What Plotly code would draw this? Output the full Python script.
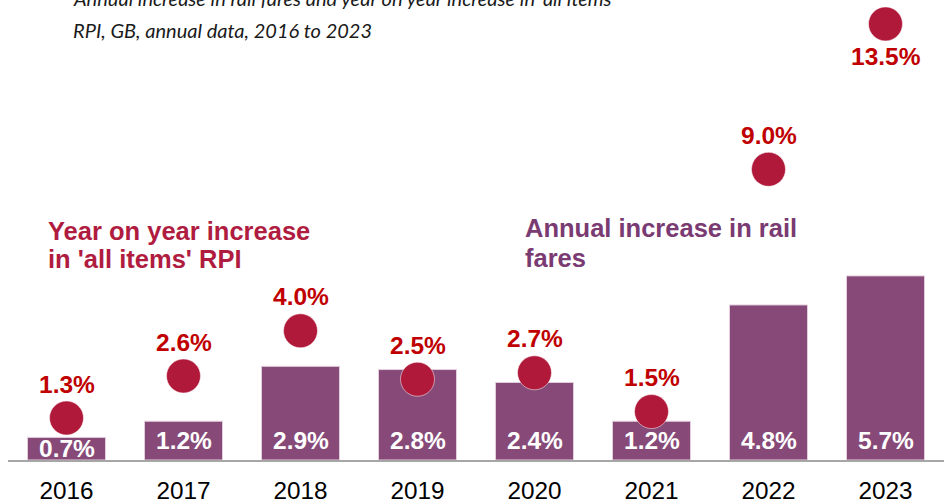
import plotly.graph_objects as go

# Data
years = ["2016", "2017", "2018", "2019", "2020", "2021", "2022", "2023"]
rail_fares = [0.7, 1.2, 2.9, 2.8, 2.4, 1.2, 4.8, 5.7]
rpi = [1.3, 2.6, 4.0, 2.5, 2.7, 1.5, 9.0, 13.5]

title_lines = [
    "Annual increase in rail fares and year on year increase in 'all items'",
    "RPI, GB, annual data, 2016 to 2023",
]
rpi_caption = ["Year on year increase", "in 'all items' RPI"]
fares_caption = ["Annual increase in rail", "fares"]

# Layout constants
W, H = 946, 504
M_L, M_R, M_T, M_B = 8, 2, 0, 44
PLOT_H = H - M_T - M_B
PX_PER_UNIT = 32.3
Y_MAX = PLOT_H / PX_PER_UNIT

BAR_COLOR = "#874A78"
DOT_COLOR = "#B0193A"
DOT_LABEL = "#C00000"
FARES_TEXT = "#7A3A72"
RPI_TEXT = "#B01C3F"
FONT = "Liberation Sans"


def paper_x(px):
    return (px - M_L) / (W - M_L - M_R)


def paper_y(py):
    return (M_T + PLOT_H - py) / PLOT_H


fig = go.Figure()

fig.add_trace(go.Bar(
    x=years, y=rail_fares, width=0.667,
    marker=dict(color=BAR_COLOR, line=dict(color="#E3CFDD", width=1)),
    hoverinfo="skip", showlegend=False,
))

fig.add_trace(go.Scatter(
    x=years, y=rpi, mode="markers",
    marker=dict(size=34, color=DOT_COLOR, line=dict(color="rgba(255,255,255,0.5)", width=1)),
    cliponaxis=False, hoverinfo="skip", showlegend=False,
))

annotations = []

# White value labels near the foot of each bar (x given as category index)
for i, v in enumerate(rail_fares):
    annotations.append(dict(
        x=i, y=0, xref="x", yref="y", text=f"{v:.1f}%", showarrow=False,
        yanchor="middle", yshift=12 if v < 1 else 20,
        font=dict(family=FONT, size=24.5, color="white", weight="bold"),
    ))

# Red value labels for the RPI dots (above, except the last one)
for i, v in enumerate(rpi):
    shift = -33 if i == len(rpi) - 1 else 34
    annotations.append(dict(
        x=i, y=v, xref="x", yref="y", text=f"{v:.1f}%", showarrow=False,
        yanchor="middle", yshift=shift,
        font=dict(family=FONT, size=24.5, color=DOT_LABEL, weight="bold"),
    ))

# Series captions
for line, cy in zip(rpi_caption, [231, 259]):
    annotations.append(dict(
        x=paper_x(46), y=paper_y(cy), xref="paper", yref="paper", text=line,
        showarrow=False, xanchor="left", yanchor="middle",
        font=dict(family=FONT, size=25.5, color=RPI_TEXT, weight="bold"),
    ))
for line, cy in zip(fares_caption, [227.5, 258]):
    annotations.append(dict(
        x=paper_x(523), y=paper_y(cy), xref="paper", yref="paper", text=line,
        showarrow=False, xanchor="left", yanchor="middle",
        font=dict(family=FONT, size=25.5, color=FARES_TEXT, weight="bold"),
    ))

# Chart subtitle (top line partly above the page edge)
for line, cy in zip(title_lines, [-1.5, 29.5]):
    annotations.append(dict(
        x=paper_x(71), y=paper_y(cy), xref="paper", yref="paper", text=line,
        showarrow=False, xanchor="left", yanchor="middle",
        font=dict(family="Lato", size=20, color="#1A1A1A", style="italic"),
    ))

fig.update_layout(
    width=W, height=H,
    margin=dict(l=M_L, r=M_R, t=M_T, b=M_B, pad=0),
    paper_bgcolor="white", plot_bgcolor="white",
    annotations=annotations,
    xaxis=dict(
        type="category", range=[-0.5, len(years) - 0.5],
        showgrid=False, zeroline=False,
        showline=True, linecolor="#A6A6A6", linewidth=2,
        ticks="", ticklabelstandoff=8,
        tickfont=dict(family=FONT, size=24.3, color="#000000"),
    ),
    yaxis=dict(range=[0, Y_MAX], visible=False, showgrid=False, zeroline=False),
)

fig.write_html("out.html")
